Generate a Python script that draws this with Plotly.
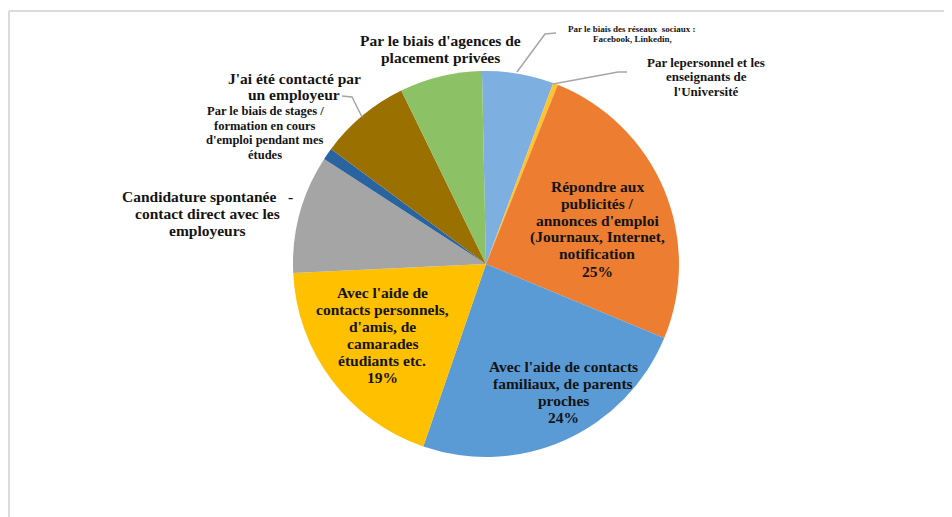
import plotly.graph_objects as go

# ---------------- data ----------------
categories = [
    "Par le biais des réseaux  sociaux :<br>Facebook, Linkedin,",
    "Par lepersonnel et les<br>enseignants de<br>l'Université",
    "Répondre aux<br>publicités /<br>annonces d'emploi<br>(Journaux, Internet,<br>notification",
    "Avec l'aide de contacts<br>familiaux, de parents<br>proches",
    "Avec l'aide de<br>contacts personnels,<br>d'amis, de<br>camarades<br>étudiants etc.",
    "Candidature spontanée   -<br>contact direct avec les<br>employeurs",
    "Par le biais de stages /<br>formation en cours<br>d'emploi pendant mes<br>études",
    "J'ai été contacté par<br>un employeur",
    "Par le biais d'agences de<br>placement privées",
]
values = [6.0, 0.4, 25.2, 24.0, 19.0, 9.9, 1.0, 7.6, 6.9]
show_percent = [False, False, True, True, True, False, False, False, False]

# ---------------- style ----------------
colors = ["#7DB0E0", "#FFC32E", "#ED7D31", "#5B9BD5", "#FFC000",
          "#A5A5A5", "#2A64A0", "#9A7000", "#8CC166"]

W, H = 952, 517
OX, OY = 8, 8          # page body margin
CX, CY, R = 486, 264, 193

# label placement (pixel centre of first line, line spacing, font size)
label_layout = [
    (632, 29, 9.5, 9),
    (706, 62, 15, 13),
    (597, 186, 17, 15.5),
    (563, 366, 17, 15.5),
    (382, 292, 17, 15.5),
    (207, 196, 17, 15.5),
    (265, 111, 14.5, 12.5),
    (294, 78, 16.5, 15.5),
    (440, 41, 16.5, 15.5),
]
leaders = [
    [(556, 33), (545, 34), (517, 72)],
    [(627, 72), (618, 72), (553, 84)],
    [(342, 96), (352, 97), (362, 117)],
]


def px(x):
    return (x - OX) / W


def py(y):
    return 1 - (y - OY) / H


total = sum(values)
fig = go.Figure()
fig.add_trace(go.Pie(
    labels=[c.replace("<br>", " ") for c in categories],
    values=values,
    sort=False,
    direction="clockwise",
    rotation=-1.2,
    textinfo="none",
    marker=dict(colors=colors, line=dict(width=0)),
    domain=dict(x=[px(CX - R), px(CX + R)], y=[py(CY + R), py(CY - R)]),
    showlegend=False,
))

annotations = []
for cat, val, pct, (lx, ly, sp, fs) in zip(categories, values, show_percent, label_layout):
    lines = cat.split("<br>")
    if pct:
        lines.append(f"{round(val / total * 100)}%")
    for i, line in enumerate(lines):
        annotations.append(dict(
            x=px(lx), y=py(ly + i * sp), xref="paper", yref="paper",
            text=line.replace("  ", "&nbsp;&nbsp;"), showarrow=False,
            xanchor="center", yanchor="middle",
            font=dict(family="Liberation Serif", size=fs, color="#141414", weight="bold"),
        ))

shapes = []
for pts in leaders:
    path = "M " + " L ".join(f"{px(x)},{py(y)}" for x, y in pts)
    shapes.append(dict(type="path", path=path, xref="paper", yref="paper",
                       line=dict(color="#A6A6A6", width=1.5)))
# frame of the picture
shapes.append(dict(type="line", xref="paper", yref="paper", x0=px(9), x1=1.0,
                   y0=py(11), y1=py(11), line=dict(color="#DCDCDC", width=2)))
shapes.append(dict(type="line", xref="paper", yref="paper", x0=px(9), x1=px(9),
                   y0=py(11), y1=0.0, line=dict(color="#DCDCDC", width=2)))

fig.update_layout(
    width=W, height=H,
    margin=dict(l=0, r=0, t=0, b=0),
    paper_bgcolor="white", plot_bgcolor="white",
    annotations=annotations, shapes=shapes,
)
fig.write_html("out.html")
